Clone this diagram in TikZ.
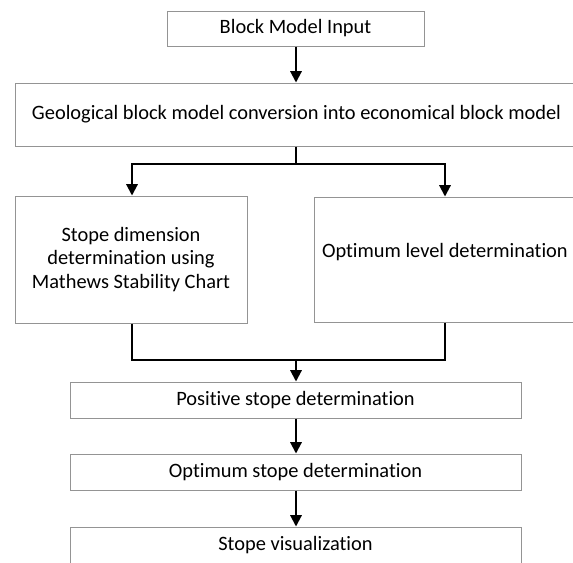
\documentclass[tikz,border=0pt]{standalone}
\usepackage{fontspec}
\setmainfont[RawFeature=-liga]{Carlito}
\usetikzlibrary{arrows.meta}
\begin{document}
\begin{tikzpicture}[x=0.75pt,y=-0.75pt,
  box/.style={draw=black!42,line width=0.75pt,inner sep=0pt,align=center,
    font=\fontsize{15.3}{17.6}\selectfont},
  arr/.style={line width=1.5pt,-{Triangle[width=8.5pt,length=8.5pt]}},
  ln/.style={line width=1.5pt}]
\clip (0,0) rectangle (573,562);
\fill[white] (0,0) rectangle (573,562);
\node[box,minimum width=192.75pt,minimum height=26.25pt] (b1) at (295.5,28.5) {Block Model Input};
\node[box,minimum width=422.25pt,minimum height=47.25pt] (b2) at (296.5,114.5) {Geological block model conversion into economical block model};
\node[box,minimum width=174pt,minimum height=95.25pt] (lb) at (131,259.5) {Stope dimension\\determination using\\Mathews Stability Chart};
\node[box,minimum width=198pt,minimum height=93.75pt,text depth=14pt] (rb) at (446,259.5) {\makebox[186pt][l]{Optimum level determination}};
\node[box,minimum width=338.25pt,minimum height=27pt] (pos) at (295.5,400) {Positive stope determination};
\node[box,minimum width=338.25pt,minimum height=27pt] (opt) at (295.5,472) {Optimum stope determination};
\node[box,minimum width=338.25pt,minimum height=27pt] (vis) at (295.5,545) {Stope visualization};
\coordinate (s) at (296,164);
\coordinate (m) at (296,360);
\draw[arr] (b1.south -| s) -- (b2.north -| s);
\draw[ln] (b2.south -| s) -- (s);
\draw[arr] (s) -| ([xshift=0.75pt]lb.north);
\draw[arr] (s) -| ([xshift=-0.75pt]rb.north);
\draw[ln] ([xshift=0.75pt]lb.south) |- (m);
\draw[ln] ([xshift=-0.75pt]rb.south) |- (m);
\draw[arr] (m) -- (pos.north -| m);
\draw[arr] (pos.south -| m) -- (opt.north -| m);
\draw[arr] (opt.south -| m) -- (vis.north -| m);
\end{tikzpicture}
\end{document}
